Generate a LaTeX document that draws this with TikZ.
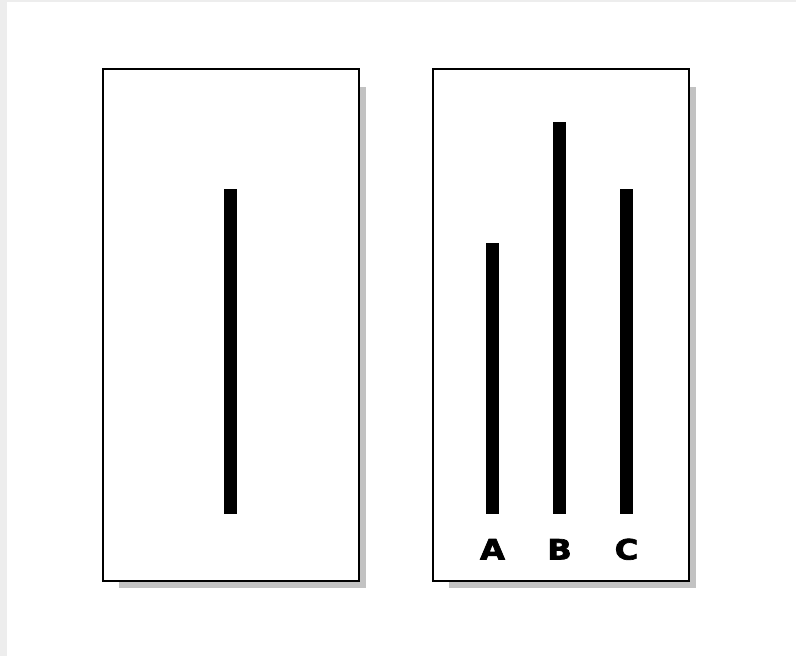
\documentclass[tikz,border=0pt]{standalone}
\usepackage{fontspec}
\newfontfamily\labfont{DejaVu Sans Bold}[FakeBold=2.5]
\begin{document}
\begin{tikzpicture}[x=1pt,y=-1pt,
  frame/.style={draw=black,line width=2pt,fill=white},
  shadowbox/.style={fill=black!24,draw=none},
  bar/.style={fill=black,draw=none},
  lab/.style={font=\labfont\fontsize{28}{28}\selectfont,inner sep=0pt,anchor=base}]
\useasboundingbox (0,0) rectangle (796,656);
\fill[black!7] (0,0) rectangle (796,656);
\fill[white] (7,2) rectangle (796,656);
% left card
\fill[shadowbox] (119,87) rectangle (366,588);
\node[frame,minimum width=256pt,minimum height=512pt,inner sep=0pt,anchor=north west] (L) at (102,68) {};
\fill[bar] (224,189) rectangle (237,514);
% right card
\fill[shadowbox] (449,87) rectangle (696,588);
\node[frame,minimum width=256pt,minimum height=512pt,inner sep=0pt,anchor=north west] (R) at (432,68) {};
\fill[bar] (486,243) rectangle (499,514);
\fill[bar] (553,122) rectangle (566,514);
\fill[bar] (620,189) rectangle (633,514);
\node[lab] (A) at (492.5,559.5) {\scalebox{1.15}[1]{A}};
\node[lab] (B) at (559.5,559.5) {\scalebox{1.15}[1]{B}};
\node[lab] (C) at (626.5,559.5) {\scalebox{1.15}[1]{C}};
\end{tikzpicture}
\end{document}
